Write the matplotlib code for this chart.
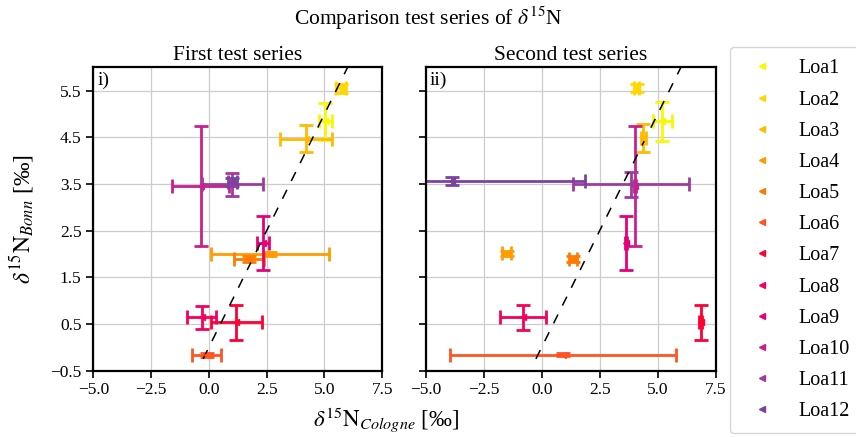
import matplotlib
matplotlib.use("Agg")
import matplotlib.pyplot as plt
from matplotlib.lines import Line2D

plt.rcParams['font.family'] = ['Liberation Serif', 'DejaVu Serif']
plt.rcParams['mathtext.fontset'] = 'stix'

names = ['Loa1', 'Loa2', 'Loa3', 'Loa4', 'Loa5', 'Loa6',
         'Loa7', 'Loa8', 'Loa9', 'Loa10', 'Loa11', 'Loa12']
colors = ['#f8f800', '#ffd700', '#ffbb00', '#ff9c00', '#ff7a00', '#ff5522',
          '#ff0033', '#f5005a', '#e6007a', '#c8208f', '#a13a9e', '#7b43a1']

# first test series
first_x = [5.04, 5.70, 4.20, 2.64, 1.74, -0.10, 1.19, -0.32, 2.32, -0.36, 1.01, 1.02]
first_y = [4.84, 5.55, 4.47, 2.00, 1.89, -0.16, 0.54, 0.64, 2.23, 3.46, 3.49, 3.54]
first_xerr = [0.27, 0.22, 1.11, 2.57, 0.64, 0.64, 1.11, 0.63, 0.26, 1.22, 1.33, 0.20]
first_yerr = [0.40, 0.10, 0.29, 0.05, 0.06, 0.04, 0.375, 0.25, 0.58, 1.29, 0.25, 0.08]

# second test series
second_x = [5.20, 4.09, 4.38, -1.51, 1.34, 0.92, 6.85, -0.79, 3.62, 4.02, 3.84, -3.88]
second_y = [4.84, 5.56, 4.49, 2.01, 1.89, -0.16, 0.54, 0.64, 2.23, 3.46, 3.49, 3.56]
second_xerr = [0.42, 0.12, 0.10, 0.18, 0.18, 4.87, 0.05, 0.99, 0.05, 0.05, 2.51, 5.75]
second_yerr = [0.41, 0.09, 0.30, 0.06, 0.06, 0.03, 0.375, 0.26, 0.58, 1.29, 0.26, 0.08]

one_to_one = [-0.25, 6.3]

fig = plt.figure(figsize=(8.56, 4.37), dpi=100)
ax1 = fig.add_axes([0.109, 0.152, 0.3376, 0.694])
ax2 = fig.add_axes([0.4973, 0.152, 0.3388, 0.694])

panels = [(ax1, first_x, first_y, first_xerr, first_yerr, 'First test series', 'i)'),
          (ax2, second_x, second_y, second_xerr, second_yerr, 'Second test series', 'ii)')]

for ax, xs, ys, xe, ye, title, tag in panels:
    ax.set_axisbelow(True)
    ax.grid(True, color='#cccccc', lw=0.9)
    for i in range(len(names)):
        ax.errorbar(xs[i], ys[i], xerr=xe[i], yerr=ye[i], fmt='<', ms=4,
                    color=colors[i], ecolor=colors[i], elinewidth=2.0,
                    capsize=4.7, capthick=2.0)
    ax.plot(one_to_one, one_to_one, color='black', lw=1.1, dashes=(6.5, 6.5))
    ax.set_xlim(-5, 7.5)
    ax.set_ylim(-0.5, 6.0)
    ax.set_xticks([-5.0, -2.5, 0.0, 2.5, 5.0, 7.5])
    ax.set_yticks([-0.5, 0.5, 1.5, 2.5, 3.5, 4.5, 5.5])
    ax.tick_params(labelsize=12.5, width=1.2, length=5, color='black')
    for sp in ax.spines.values():
        sp.set_linewidth(1.6)
        sp.set_color('black')
    ax.set_title(title, fontsize=15.5, pad=5)
    ax.text(0.015, 0.985, tag, transform=ax.transAxes, fontsize=14,
            ha='left', va='top')

ax2.tick_params(labelleft=False)

fig.suptitle(r'Comparison test series of $\delta^{15}$N', fontsize=15.5, y=0.99)
fig.text(0.451, 0.005, r'$\delta^{15}\mathrm{N}_{Cologne}$ [‰]', fontsize=16.5,
         ha='center', va='bottom')
fig.text(0.008, 0.5, r'$\delta^{15}\mathrm{N}_{Bonn}$ [‰]', fontsize=17,
         rotation=90, ha='left', va='center')

handles = [Line2D([], [], ls='none', marker='<', ms=4, color=c) for c in colors]
fig.legend(handles, names, loc='upper left', bbox_to_anchor=(0.853, 0.892),
           bbox_transform=fig.transFigure, borderaxespad=0, fontsize=14.5,
           labelspacing=0.6, borderpad=0.6, frameon=True, edgecolor='#cccccc')

fig.savefig('out.png', dpi=100)
